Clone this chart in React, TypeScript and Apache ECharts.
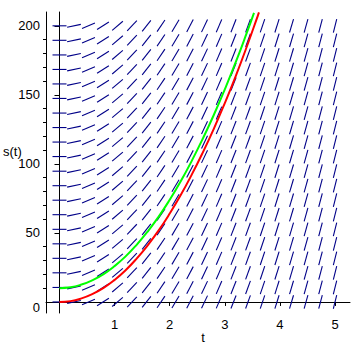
import React, { useEffect, useRef } from "react";
import * as echarts from "echarts";

// Direction-field grid (t columns, s rows) and the slope ds/dt in each column
const tGrid = [0, 0.263, 0.526, 0.789, 1.053, 1.316, 1.579, 1.842, 2.105, 2.368, 2.632, 2.895, 3.158, 3.421, 3.684, 3.947, 4.211, 4.474, 4.737, 5];
const columnSlopes = [0, 8.4, 16.8, 25.3, 33.7, 42.1, 50.5, 58.9, 67.4, 75.8, 84.2, 92.6, 101.1, 109.5, 117.9, 126.3, 134.7, 143.2, 151.6, 160];
const sGrid = [0, 10.5, 21.1, 31.6, 42.1, 52.6, 63.2, 73.7, 84.2, 94.7, 105.3, 115.8, 126.3, 136.8, 147.4, 157.9, 168.4, 178.9, 189.5, 200];

// Solution curves
const redT = [0, 0.2, 0.4, 0.6, 0.8, 1, 1.2, 1.4, 1.6, 1.8, 2, 2.2, 2.4, 2.6, 2.8, 3, 3.2, 3.4, 3.6, 3.62];
const redS = [0, 0.6, 2.6, 5.8, 10.2, 16, 23, 31.4, 41, 51.8, 64, 77.4, 92.2, 108.2, 125.4, 144, 163.8, 185, 207.4, 209.7];
const greenT = [0, 0.2, 0.4, 0.6, 0.8, 1, 1.2, 1.4, 1.6, 1.8, 2, 2.2, 2.4, 2.6, 2.8, 3, 3.2, 3.4, 3.53];
const greenS = [10, 10.6, 12.6, 15.8, 20.2, 26, 33, 41.4, 51, 61.8, 74, 87.4, 102.2, 118.2, 135.4, 154, 173.8, 195, 209.4];

// Axis ticks and labels
const xLabels = [1, 2, 3, 4, 5];
const yLabels = [0, 50, 100, 150, 200];
const yMajorTicks = [50, 100, 150, 200];
const yMinorTicks = [10, 20, 30, 40, 60, 70, 80, 90, 110, 120, 130, 140, 160, 170, 180, 190];
const xName = "t";
const yName = "s(t)";

const FONT = "'Liberation Sans', Arial, sans-serif";

export default function App() {
  const ref = useRef<HTMLDivElement>(null);
  useEffect(() => {
    if (!ref.current) return;
    const chart = echarts.init(ref.current, null, { renderer: "svg" });

    const fieldData: number[][] = [];
    tGrid.forEach((t, i) => {
      sGrid.forEach((s) => fieldData.push([t, s, columnSlopes[i]]));
    });

    const SEG = 14;

    chart.setOption({
      animation: false,
      backgroundColor: "#ffffff",
      grid: { left: 46, right: 3, top: 12, bottom: 40, containLabel: false, outerBoundsMode: "none" },
      graphic: [
        {
          type: "text",
          x: 203,
          y: 337,
          style: { text: xName, fill: "#000", fontSize: 13, fontFamily: FONT, align: "center", verticalAlign: "middle" },
        },
        {
          type: "text",
          x: 3,
          y: 151,
          style: { text: yName, fill: "#000", fontSize: 13, fontFamily: FONT, align: "left", verticalAlign: "middle" },
        },
      ],
      xAxis: {
        type: "value",
        min: -0.245,
        max: 5.272,
        splitLine: { show: false },
        axisLine: { show: true, onZero: true, lineStyle: { color: "#000", width: 1 } },
        axisTick: { show: true, length: 4, inside: false, customValues: xLabels, lineStyle: { color: "#000" } },
        axisLabel: { show: true, customValues: xLabels, margin: 5, color: "#000", fontSize: 13, fontFamily: FONT },
      },
      yAxis: [
        {
          type: "value",
          min: -8,
          max: 210,
          position: "left",
          splitLine: { show: false },
          axisLine: { show: true, onZero: true, lineStyle: { color: "#000", width: 1 } },
          axisTick: { show: true, length: 5, inside: false, customValues: yMajorTicks, lineStyle: { color: "#000" } },
          axisLabel: {
            show: true,
            customValues: yLabels,
            margin: 6,
            color: "#000",
            fontSize: 13,
            fontFamily: FONT,
            formatter: (v: number) => (v === 0 ? "{z|0}" : String(v)),
            rich: { z: { fontSize: 13, fontFamily: FONT, color: "#000", padding: [12, 0, 0, 0] } },
          },
        },
        {
          type: "value",
          min: -8,
          max: 210,
          position: "left",
          splitLine: { show: false },
          axisLine: { show: true, onZero: true, lineStyle: { color: "#000", width: 1 } },
          axisTick: { show: true, length: 3, inside: false, customValues: yMinorTicks, lineStyle: { color: "#000" } },
          axisLabel: { show: false },
        },
      ],
      series: [
        {
          type: "custom",
          name: "field",
          coordinateSystem: "cartesian2d",
          data: fieldData,
          silent: true,
          renderItem: (params: any, api: any) => {
            const t = api.value(0);
            const s = api.value(1);
            const m = api.value(2);
            const p = api.coord([t, s]);
            const q = api.coord([t + 1, s + m]);
            let dx = q[0] - p[0];
            let dy = q[1] - p[1];
            const len = Math.sqrt(dx * dx + dy * dy) || 1;
            dx = (dx / len) * (SEG / 2);
            dy = (dy / len) * (SEG / 2);
            return {
              type: "line",
              shape: { x1: p[0] - dx, y1: p[1] - dy, x2: p[0] + dx, y2: p[1] + dy },
              style: { stroke: "#000088", lineWidth: 1.1 },
            };
          },
        },
        {
          type: "line",
          name: "green",
          data: greenT.map((t, i) => [t, greenS[i]]),
          smooth: true,
          showSymbol: false,
          lineStyle: { color: "#00ff00", width: 2 },
        },
        {
          type: "line",
          name: "red",
          data: redT.map((t, i) => [t, redS[i]]),
          smooth: true,
          showSymbol: false,
          lineStyle: { color: "#ff0000", width: 2 },
        },
      ],
    });
    return () => chart.dispose();
  }, []);

  return (
    <div
      ref={ref}
      style={{ position: "absolute", left: 0, top: 0, width: 353, height: 353, background: "#fff" }}
    />
  );
}
